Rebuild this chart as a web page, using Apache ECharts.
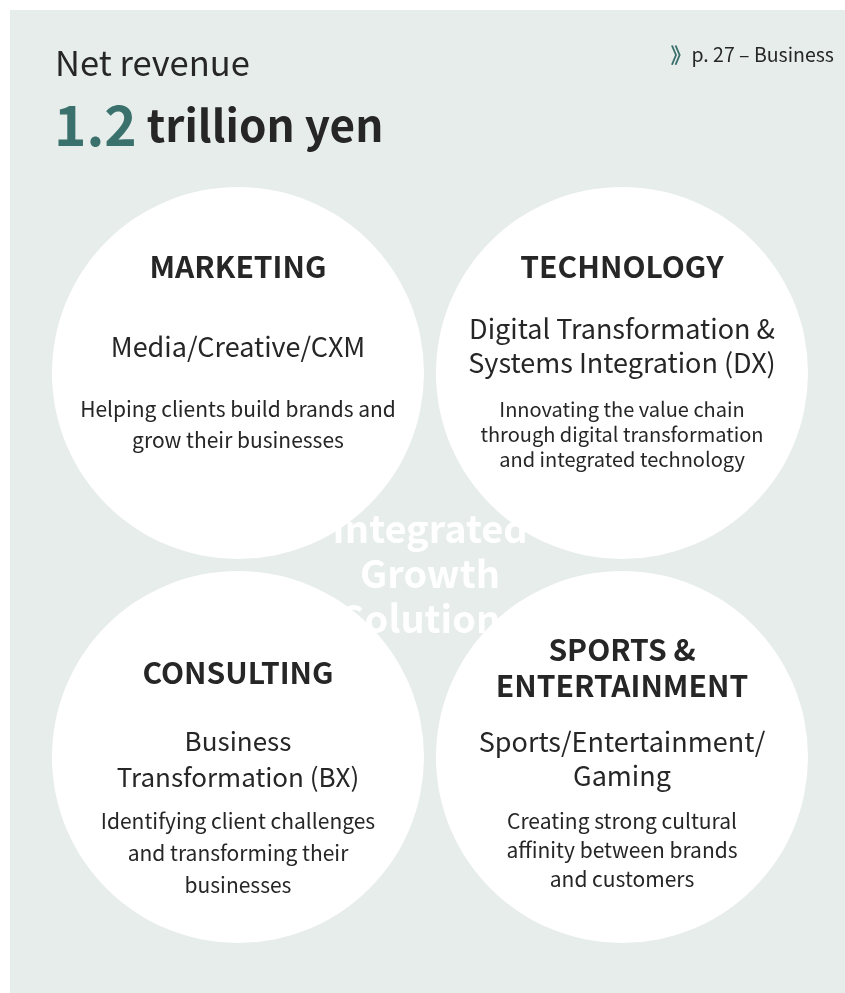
<!DOCTYPE html>
<html>
<head>
<meta charset="utf-8">
<script src="https://cdn.jsdelivr.net/npm/echarts@6/dist/echarts.min.js"></script>
<style>
html, body { margin: 0; padding: 0; background: #fff; }
#main { width: 845px; height: 993px; }
</style>
</head>
<body>
<div id="main"></div>
<script>
// 数据
var columns = ['left', 'right'];
var rows = ['top', 'bottom'];
var segments = ['MARKETING', 'TECHNOLOGY', 'CONSULTING', 'SPORTS &\nENTERTAINMENT'];
var segmentCol = ['left', 'right', 'left', 'right'];
var segmentRow = ['top', 'top', 'bottom', 'bottom'];
var services = [
  'Media/Creative/CXM',
  'Digital Transformation &\nSystems Integration (DX)',
  'Business\nTransformation (BX)',
  'Sports/Entertainment/\nGaming'
];
var descriptions = [
  'Helping clients build brands and\ngrow their businesses',
  'Innovating the value chain\nthrough digital transformation\nand integrated technology',
  'Identifying client challenges\nand transforming their\nbusinesses',
  'Creating strong cultural\naffinity between brands\nand customers'
];
var headline = 'Net revenue';
var revenueValue = '1.2';
var revenueUnit = 'trillion yen';
var pageRef = 'p. 27 – Business';
var centerText = 'Integrated\nGrowth\nSolutions';

// 样式
var FONT = '"Noto Sans CJK JP", "Source Sans Pro", sans-serif';
var DARK = '#262626';
var TEAL = '#3b716d';
var PANEL = '#e7edeb';
// 每个圆里文字的偏移 (相对圆心)
var textLayout = [
  { title: -106, titleLh: 36, svc: -26.5, svcSize: 27, svcLh: 34, desc: 52, descLh: 31, descSize: 21 },
  { title: -106, titleLh: 36, svc: -27.5, svcSize: 27, svcLh: 34, desc: 61.5, descLh: 25, descSize: 20 },
  { title: -84, titleLh: 36, svc: 2, svcSize: 26, svcLh: 35.5, desc: 96, descLh: 32, descSize: 21 },
  { title: -89, titleLh: 36, svc: 1.75, svcSize: 27, svcLh: 34.5, desc: 93, descLh: 29, descSize: 21 }
];

var myChart = echarts.init(document.getElementById('main'));

var option = {
  animation: false,
  grid: { left: 46, right: 31, top: 181, bottom: 44 },
  xAxis: { type: 'category', data: columns, show: false },
  yAxis: { type: 'category', data: rows, inverse: true, show: false },
  series: [{
    type: 'scatter',
    z: 5,
    symbol: 'circle',
    symbolSize: 372,
    itemStyle: { color: '#ffffff', opacity: 1 },
    silent: true,
    data: segments.map(function (s, i) { return [segmentCol[i], segmentRow[i]]; })
  }]
};
myChart.setOption(option);

// 文字
var graphics = [
  { type: 'rect', z: 0, shape: { x: 10, y: 10, width: 835, height: 983 }, style: { fill: PANEL } },
  {
    type: 'text', z: 1, x: 430, y: 574,
    style: { text: centerText, fill: '#ffffff', font: 'bold 38px ' + FONT, align: 'center', verticalAlign: 'middle', lineHeight: 45 }
  },
  {
    type: 'text', z: 10, x: 55, y: 63,
    style: { text: headline, fill: DARK, font: '34.5px ' + FONT, align: 'left', verticalAlign: 'middle' }
  },
  {
    type: 'text', z: 10, x: 54, y: 125,
    style: {
      text: '{a|' + revenueValue + '}{b| ' + revenueUnit + '}',
      align: 'left', verticalAlign: 'middle',
      rich: {
        a: { fill: TEAL, font: 'bold 55px ' + FONT },
        b: { fill: DARK, font: 'bold 44px ' + FONT }
      }
    }
  },
  {
    type: 'text', z: 10, x: 834, y: 55,
    style: {
      text: '{a|》}{b|' + pageRef + '}',
      align: 'right', verticalAlign: 'middle',
      rich: {
        a: { fill: TEAL, font: 'bold 21px ' + FONT },
        b: { fill: DARK, font: '19.5px ' + FONT }
      }
    }
  }
];

segments.forEach(function (s, i) {
  var c = myChart.convertToPixel({ seriesIndex: 0 }, [segmentCol[i], segmentRow[i]]);
  var L = textLayout[i];
  graphics.push({
    type: 'text', z: 10, x: c[0], y: c[1] + L.title,
    style: { text: s, fill: DARK, font: 'bold 30px ' + FONT, align: 'center', verticalAlign: 'middle', lineHeight: L.titleLh }
  });
  graphics.push({
    type: 'text', z: 10, x: c[0], y: c[1] + L.svc,
    style: { text: services[i], fill: DARK, font: L.svcSize + 'px ' + FONT, align: 'center', verticalAlign: 'middle', lineHeight: L.svcLh }
  });
  graphics.push({
    type: 'text', z: 10, x: c[0], y: c[1] + L.desc,
    style: { text: descriptions[i], fill: DARK, font: L.descSize + 'px ' + FONT, align: 'center', verticalAlign: 'middle', lineHeight: L.descLh }
  });
});

myChart.setOption({ graphic: graphics });
</script>
</body>
</html>
